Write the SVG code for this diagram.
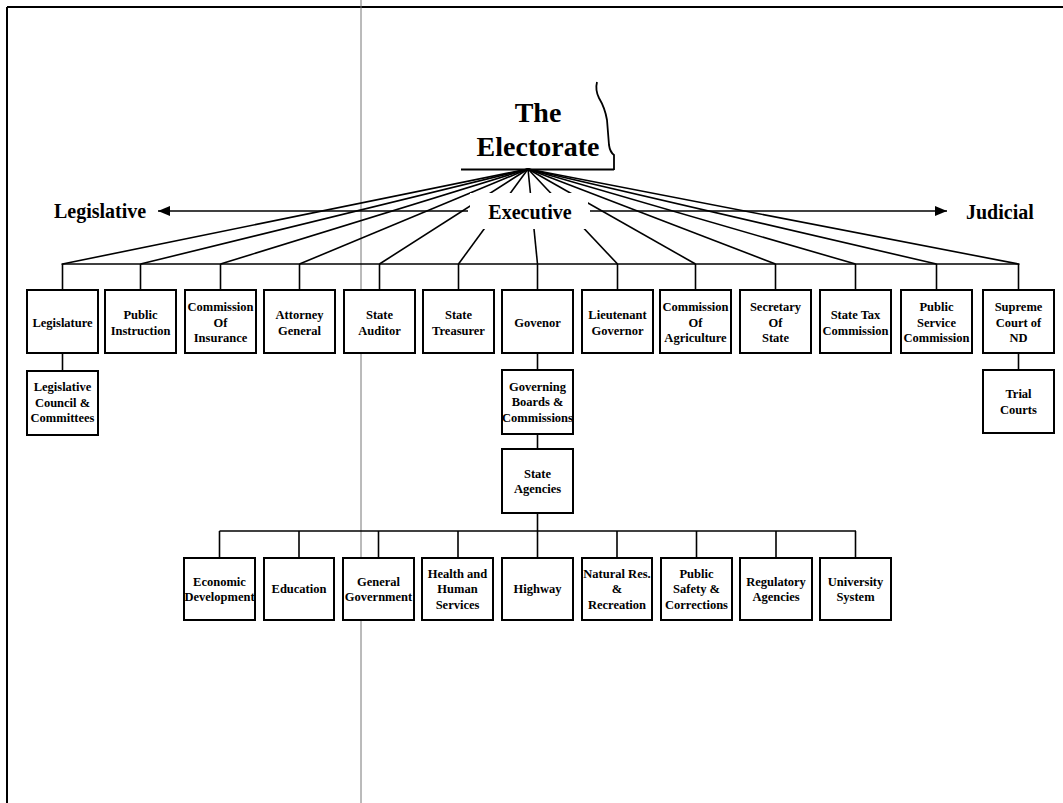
<svg xmlns="http://www.w3.org/2000/svg" width="1063" height="803" viewBox="0 0 1063 803">
<style>
.box{fill:#fff;stroke:#000;stroke-width:2}
.ln{stroke:#000;stroke-width:1.6;fill:none}
.t{font-family:"Liberation Serif","Times New Roman",serif;font-weight:bold;font-size:12.5px;text-anchor:middle;fill:#000}
.lbl{font-family:"Liberation Serif","Times New Roman",serif;font-weight:bold;font-size:20px;fill:#000}
.big{font-family:"Liberation Serif","Times New Roman",serif;font-weight:bold;font-size:28px;text-anchor:middle;fill:#000}
</style>
<defs>
<marker id="ah" viewBox="0 0 12 10" refX="12" refY="5" markerWidth="12" markerHeight="10" markerUnits="userSpaceOnUse" orient="auto">
<path d="M0,0 L12,5 L0,10 Z" fill="#000"/>
</marker>
</defs>
<rect width="1063" height="803" fill="#fff"/>
<g id="frame">
<line x1="7" y1="7" x2="1063" y2="7" stroke="#000" stroke-width="2"/>
<line x1="7" y1="7" x2="7" y2="803" stroke="#000" stroke-width="2"/>
<line x1="361" y1="0" x2="361" y2="803" stroke="#777" stroke-width="1"/>
</g>
<g id="connectors">
<g class="ln">
<line x1="528" y1="169" x2="62.5" y2="264"/>
<line x1="528" y1="169" x2="140.5" y2="264"/>
<line x1="528" y1="169" x2="220.5" y2="264"/>
<line x1="528" y1="169" x2="299.5" y2="264"/>
<line x1="528" y1="169" x2="379.5" y2="264"/>
<line x1="528" y1="169" x2="458.5" y2="264"/>
<line x1="528" y1="169" x2="537.5" y2="264"/>
<line x1="528" y1="169" x2="617.5" y2="264"/>
<line x1="528" y1="169" x2="695.5" y2="264"/>
<line x1="528" y1="169" x2="775.5" y2="264"/>
<line x1="528" y1="169" x2="855.5" y2="264"/>
<line x1="528" y1="169" x2="936.5" y2="264"/>
<line x1="528" y1="169" x2="1018.5" y2="264"/>
</g>
<rect x="470" y="193" width="118" height="36" fill="#fff"/>
<line class="ln" x1="468" y1="211" x2="158" y2="211" marker-end="url(#ah)"/>
<line class="ln" x1="590" y1="211" x2="947" y2="211" marker-end="url(#ah)"/>
<g class="ln">
<line x1="461" y1="169.5" x2="614" y2="169.5" stroke-width="2.2"/>
<path d="M597,82 Q595,90 599,98 Q605,108 607,120 L609,145 Q610,152 614,155 L614,170" stroke-width="1.8"/>
<line x1="61.5" y1="264" x2="1019.5" y2="264"/>
<line x1="62.5" y1="264" x2="62.5" y2="290"/>
<line x1="140.5" y1="264" x2="140.5" y2="290"/>
<line x1="220.5" y1="264" x2="220.5" y2="290"/>
<line x1="299.5" y1="264" x2="299.5" y2="290"/>
<line x1="379.5" y1="264" x2="379.5" y2="290"/>
<line x1="458.5" y1="264" x2="458.5" y2="290"/>
<line x1="537.5" y1="264" x2="537.5" y2="290"/>
<line x1="617.5" y1="264" x2="617.5" y2="290"/>
<line x1="695.5" y1="264" x2="695.5" y2="290"/>
<line x1="775.5" y1="264" x2="775.5" y2="290"/>
<line x1="855.5" y1="264" x2="855.5" y2="290"/>
<line x1="936.5" y1="264" x2="936.5" y2="290"/>
<line x1="1018.5" y1="264" x2="1018.5" y2="290"/>
<line x1="62.5" y1="353" x2="62.5" y2="371"/>
<line x1="537.5" y1="353" x2="537.5" y2="370"/>
<line x1="1018.5" y1="353" x2="1018.5" y2="370"/>
<line x1="537.5" y1="434" x2="537.5" y2="449"/>
<line x1="537.5" y1="513" x2="537.5" y2="531"/>
<line x1="219.5" y1="531" x2="856" y2="531"/>
<line x1="219.5" y1="531" x2="219.5" y2="558"/>
<line x1="299" y1="531" x2="299" y2="558"/>
<line x1="378.5" y1="531" x2="378.5" y2="558"/>
<line x1="458" y1="531" x2="458" y2="558"/>
<line x1="537.5" y1="531" x2="537.5" y2="558"/>
<line x1="617" y1="531" x2="617" y2="558"/>
<line x1="696.5" y1="531" x2="696.5" y2="558"/>
<line x1="776" y1="531" x2="776" y2="558"/>
<line x1="855.5" y1="531" x2="855.5" y2="558"/>
</g>
</g>
<g id="electorate">
<text class="big" x="538" y="122">The</text>
<text class="big" x="538" y="156">Electorate</text>
</g>
<g id="branch-labels">
<text class="lbl" x="54" y="218">Legislative</text>
<text class="lbl" x="530" y="219" text-anchor="middle">Executive</text>
<text class="lbl" x="966" y="219">Judicial</text>
</g>
<g id="n-legislature"><rect class="box" x="27" y="290" width="71" height="63"/><text class="t" x="62.5" y="326.8">Legislature</text></g>
<g id="n-public-instruction"><rect class="box" x="105" y="290" width="71" height="63"/><text class="t" x="140.5" y="319.05">Public</text><text class="t" x="140.5" y="334.55">Instruction</text></g>
<g id="n-comm-insurance"><rect class="box" x="185" y="290" width="71" height="63"/><text class="t" x="220.5" y="311.3">Commission</text><text class="t" x="220.5" y="326.8">Of</text><text class="t" x="220.5" y="342.3">Insurance</text></g>
<g id="n-attorney-general"><rect class="box" x="264" y="290" width="71" height="63"/><text class="t" x="299.5" y="319.05">Attorney</text><text class="t" x="299.5" y="334.55">General</text></g>
<g id="n-state-auditor"><rect class="box" x="344" y="290" width="71" height="63"/><text class="t" x="379.5" y="319.05">State</text><text class="t" x="379.5" y="334.55">Auditor</text></g>
<g id="n-state-treasurer"><rect class="box" x="423" y="290" width="71" height="63"/><text class="t" x="458.5" y="319.05">State</text><text class="t" x="458.5" y="334.55">Treasurer</text></g>
<g id="n-govenor"><rect class="box" x="502" y="290" width="71" height="63"/><text class="t" x="537.5" y="326.8">Govenor</text></g>
<g id="n-lieutenant-governor"><rect class="box" x="582" y="290" width="71" height="63"/><text class="t" x="617.5" y="319.05">Lieutenant</text><text class="t" x="617.5" y="334.55">Governor</text></g>
<g id="n-comm-agriculture"><rect class="box" x="660" y="290" width="71" height="63"/><text class="t" x="695.5" y="311.3">Commission</text><text class="t" x="695.5" y="326.8">Of</text><text class="t" x="695.5" y="342.3">Agriculture</text></g>
<g id="n-secretary-of-state"><rect class="box" x="740" y="290" width="71" height="63"/><text class="t" x="775.5" y="311.3">Secretary</text><text class="t" x="775.5" y="326.8">Of</text><text class="t" x="775.5" y="342.3">State</text></g>
<g id="n-state-tax"><rect class="box" x="820" y="290" width="71" height="63"/><text class="t" x="855.5" y="319.05">State Tax</text><text class="t" x="855.5" y="334.55">Commission</text></g>
<g id="n-public-service"><rect class="box" x="901" y="290" width="71" height="63"/><text class="t" x="936.5" y="311.3">Public</text><text class="t" x="936.5" y="326.8">Service</text><text class="t" x="936.5" y="342.3">Commission</text></g>
<g id="n-supreme-court"><rect class="box" x="983" y="290" width="71" height="63"/><text class="t" x="1018.5" y="311.3">Supreme</text><text class="t" x="1018.5" y="326.8">Court of</text><text class="t" x="1018.5" y="342.3">ND</text></g>
<g id="n-legislative-council"><rect class="box" x="27" y="371" width="71" height="64"/><text class="t" x="62.5" y="391.3">Legislative</text><text class="t" x="62.5" y="406.8">Council &amp;</text><text class="t" x="62.5" y="422.3">Committees</text></g>
<g id="n-governing-boards"><rect class="box" x="502" y="370" width="71" height="64"/><text class="t" x="537.5" y="390.8">Governing</text><text class="t" x="537.5" y="406.3">Boards &amp;</text><text class="t" x="537.5" y="421.8">Commissions</text></g>
<g id="n-trial-courts"><rect class="box" x="983" y="370" width="71" height="63"/><text class="t" x="1018.5" y="398.05">Trial</text><text class="t" x="1018.5" y="413.55">Courts</text></g>
<g id="n-state-agencies"><rect class="box" x="502" y="449" width="71" height="64"/><text class="t" x="537.5" y="477.55">State</text><text class="t" x="537.5" y="493.05">Agencies</text></g>
<g id="n-economic-development"><rect class="box" x="184" y="558" width="71" height="62"/><text class="t" x="219.5" y="585.55">Economic</text><text class="t" x="219.5" y="601.05">Development</text></g>
<g id="n-education"><rect class="box" x="264" y="558" width="70" height="62"/><text class="t" x="299" y="593.3">Education</text></g>
<g id="n-general-government"><rect class="box" x="343" y="558" width="71" height="62"/><text class="t" x="378.5" y="585.55">General</text><text class="t" x="378.5" y="601.05">Government</text></g>
<g id="n-health"><rect class="box" x="422" y="558" width="71" height="62"/><text class="t" x="457.5" y="577.8">Health and</text><text class="t" x="457.5" y="593.3">Human</text><text class="t" x="457.5" y="608.8">Services</text></g>
<g id="n-highway"><rect class="box" x="502" y="558" width="71" height="62"/><text class="t" x="537.5" y="593.3">Highway</text></g>
<g id="n-natural-res"><rect class="box" x="582" y="558" width="70" height="62"/><text class="t" x="617" y="577.8">Natural Res.</text><text class="t" x="617" y="593.3">&amp;</text><text class="t" x="617" y="608.8">Recreation</text></g>
<g id="n-public-safety"><rect class="box" x="661" y="558" width="71" height="62"/><text class="t" x="696.5" y="577.8">Public</text><text class="t" x="696.5" y="593.3">Safety &amp;</text><text class="t" x="696.5" y="608.8">Corrections</text></g>
<g id="n-regulatory"><rect class="box" x="740" y="558" width="72" height="62"/><text class="t" x="776" y="585.55">Regulatory</text><text class="t" x="776" y="601.05">Agencies</text></g>
<g id="n-university"><rect class="box" x="820" y="558" width="71" height="62"/><text class="t" x="855.5" y="585.55">University</text><text class="t" x="855.5" y="601.05">System</text></g>
</svg>
